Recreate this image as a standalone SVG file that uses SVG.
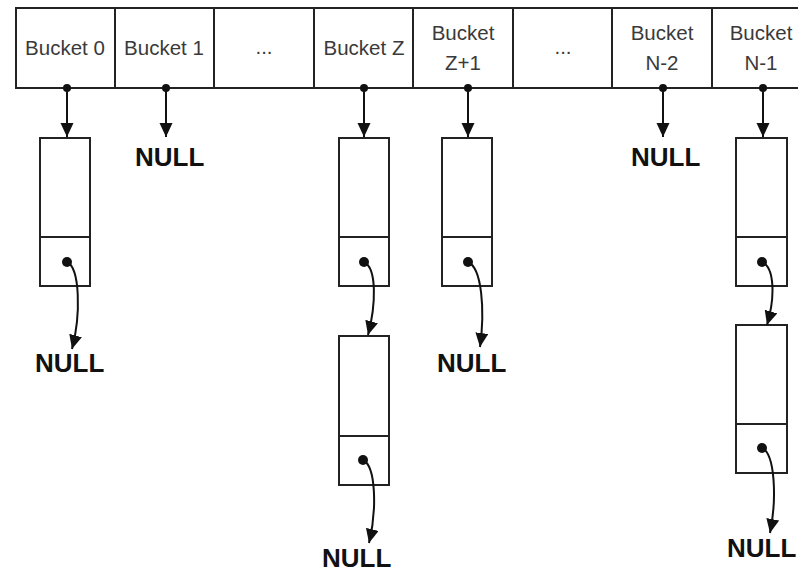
<svg xmlns="http://www.w3.org/2000/svg" width="798" height="574" viewBox="0 0 798 574">
<defs>
<marker id="ah" markerUnits="userSpaceOnUse" markerWidth="16" markerHeight="14" refX="14" refY="6.5" orient="auto">
<path d="M0,0 L14,6.5 L0,13 Z" fill="#111"/>
</marker>
<style>
.cell{fill:#fff;stroke:#222;stroke-width:2}
.lbl{font-family:"Liberation Sans",Arial,sans-serif;font-size:20.5px;fill:#3a3a3a;text-anchor:middle}
.null{font-family:"Liberation Sans",Arial,sans-serif;font-size:26px;font-weight:bold;fill:#111}
.link{fill:none;stroke:#111;stroke-width:2;marker-end:url(#ah)}
.dot{fill:#111}
</style>
</defs>
<rect width="798" height="574" fill="#fff"/>

<g id="buckets">
<rect class="cell" x="16" y="8" width="800" height="80"/>
<line x1="115" y1="8" x2="115" y2="88" stroke="#222" stroke-width="2"/>
<line x1="214" y1="8" x2="214" y2="88" stroke="#222" stroke-width="2"/>
<line x1="314" y1="8" x2="314" y2="88" stroke="#222" stroke-width="2"/>
<line x1="413" y1="8" x2="413" y2="88" stroke="#222" stroke-width="2"/>
<line x1="513" y1="8" x2="513" y2="88" stroke="#222" stroke-width="2"/>
<line x1="612" y1="8" x2="612" y2="88" stroke="#222" stroke-width="2"/>
<line x1="712" y1="8" x2="712" y2="88" stroke="#222" stroke-width="2"/>
<text class="lbl" x="65" y="55">Bucket 0</text>
<text class="lbl" x="164" y="55">Bucket 1</text>
<text class="lbl" x="264" y="54">...</text>
<text class="lbl" x="364" y="55">Bucket Z</text>
<text class="lbl" x="463" y="40">Bucket</text>
<text class="lbl" x="463" y="70">Z+1</text>
<text class="lbl" x="563" y="54">...</text>
<text class="lbl" x="662" y="40">Bucket</text>
<text class="lbl" x="662" y="70">N-2</text>
<text class="lbl" x="761" y="40">Bucket</text>
<text class="lbl" x="761" y="70">N-1</text>
<circle class="dot" cx="67" cy="88" r="4"/>
<circle class="dot" cx="166" cy="88" r="4"/>
<circle class="dot" cx="364" cy="88" r="4"/>
<circle class="dot" cx="468" cy="88" r="4"/>
<circle class="dot" cx="663" cy="88" r="4"/>
<circle class="dot" cx="763" cy="88" r="4"/>
</g>

<g id="node-b0">
<rect class="cell" x="40" y="138" width="50" height="148"/>
<line x1="40" y1="237" x2="90" y2="237" stroke="#222" stroke-width="2"/>
<circle class="dot" cx="67" cy="262" r="5"/>
</g>
<g id="node-bz-1">
<rect class="cell" x="339" y="138" width="50" height="148"/>
<line x1="339" y1="237" x2="389" y2="237" stroke="#222" stroke-width="2"/>
<circle class="dot" cx="364" cy="262" r="5"/>
</g>
<g id="node-bz-2">
<rect class="cell" x="339" y="336" width="50" height="149"/>
<line x1="339" y1="436" x2="389" y2="436" stroke="#222" stroke-width="2"/>
<circle class="dot" cx="363" cy="460" r="5"/>
</g>
<g id="node-bz1">
<rect class="cell" x="442" y="138" width="50" height="148"/>
<line x1="442" y1="237" x2="492" y2="237" stroke="#222" stroke-width="2"/>
<circle class="dot" cx="468" cy="262" r="5"/>
</g>
<g id="node-bn1-1">
<rect class="cell" x="736" y="138" width="51" height="148"/>
<line x1="736" y1="237" x2="787" y2="237" stroke="#222" stroke-width="2"/>
<circle class="dot" cx="762" cy="262" r="5"/>
</g>
<g id="node-bn1-2">
<rect class="cell" x="736" y="325" width="51" height="148"/>
<line x1="736" y1="424" x2="787" y2="424" stroke="#222" stroke-width="2"/>
<circle class="dot" cx="762" cy="448" r="5"/>
</g>

<g id="null-b1"><text class="null" x="135" y="166">NULL</text></g>
<g id="null-bn2"><text class="null" x="631" y="166">NULL</text></g>
<g id="null-b0"><text class="null" x="35" y="372">NULL</text></g>
<g id="null-bz1"><text class="null" x="437" y="372">NULL</text></g>
<g id="null-bz"><text class="null" x="322" y="567">NULL</text></g>
<g id="null-bn1"><text class="null" x="727" y="557">NULL</text></g>

<g id="connectors">
<line class="link" x1="67" y1="88" x2="67" y2="137"/>
<line class="link" x1="166" y1="88" x2="166" y2="137"/>
<line class="link" x1="364" y1="88" x2="364" y2="137"/>
<line class="link" x1="468" y1="88" x2="468" y2="137"/>
<line class="link" x1="663" y1="88" x2="663" y2="137"/>
<line class="link" x1="763" y1="88" x2="763" y2="137"/>
<path class="link" d="M67,262 C80,268 81,315 72,349"/>
<path class="link" d="M364,262 C377,268 376,305 368,335"/>
<path class="link" d="M468,262 C482,268 485,310 480,347"/>
<path class="link" d="M762,262 C775,268 775,298 767,325"/>
<path class="link" d="M363,460 C376,466 377,510 369,543"/>
<path class="link" d="M762,448 C775,454 777,498 770,533"/>
</g>
</svg>
